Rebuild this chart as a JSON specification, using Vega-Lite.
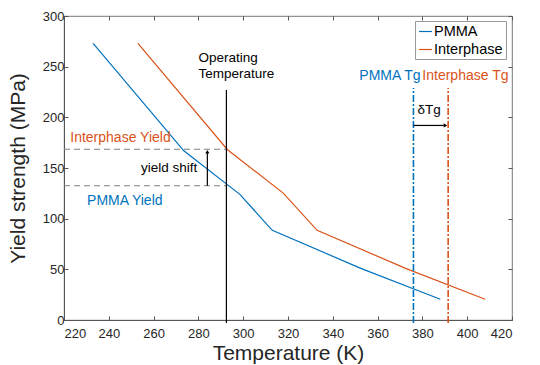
{
  "$schema": "https://vega.github.io/schema/vega-lite/v6.json",
  "width": 448,
  "height": 304,
  "autosize": {"type": "none"},
  "padding": {"left": 64, "top": 16, "right": 28, "bottom": 45},
  "config": {
    "font": "Liberation Sans",
    "view": {"stroke": "#555555", "strokeWidth": 0.8},
    "axis": {
      "grid": false,
      "domainColor": "#555555",
      "tickColor": "#555555",
      "labelColor": "#262626",
      "labelFontSize": 13,
      "titleColor": "#262626",
      "titleFontSize": 21,
      "titleFontWeight": "normal",
      "tickSize": -4
    }
  },
  "datasets": {
    "curves": [
      {"series": "PMMA", "T": 233, "Y": 273},
      {"series": "PMMA", "T": 273.5, "Y": 167},
      {"series": "PMMA", "T": 298.5, "Y": 124},
      {"series": "PMMA", "T": 313, "Y": 88.5},
      {"series": "PMMA", "T": 352.5, "Y": 51},
      {"series": "PMMA", "T": 388, "Y": 20.5},
      {"series": "Interphase", "T": 253, "Y": 273},
      {"series": "Interphase", "T": 293, "Y": 168},
      {"series": "Interphase", "T": 318, "Y": 125},
      {"series": "Interphase", "T": 333, "Y": 88.5},
      {"series": "Interphase", "T": 372.5, "Y": 51},
      {"series": "Interphase", "T": 408, "Y": 20.5}
    ]
  },
  "resolve": {"axis": {"x": "independent", "y": "independent"}},
  "layer": [
    {
      "layer": [
        {
          "data": {"values": [{"T1": 220, "T2": 292.5, "Y": 168.5}, {"T1": 220, "T2": 292.5, "Y": 132.5}]},
          "mark": {"type": "rule", "color": "#808080", "strokeDash": [6, 4], "strokeWidth": 1},
          "encoding": {
            "x": {"field": "T1", "type": "quantitative"},
            "x2": {"field": "T2"},
            "y": {"field": "Y", "type": "quantitative"}
          }
        },
        {
          "data": {"name": "curves"},
          "mark": {"type": "line", "strokeWidth": 1.2},
          "encoding": {
            "x": {
              "field": "T", "type": "quantitative",
              "scale": {"domain": [220, 420], "nice": false, "zero": false},
              "axis": {"values": [220, 240, 260, 280, 300, 320, 340, 360, 380, 400, 420], "title": "Temperature (K)", "labelPadding": 11, "titlePadding": 2}
            },
            "y": {
              "field": "Y", "type": "quantitative",
              "scale": {"domain": [0, 300], "nice": false},
              "axis": {"values": [0, 50, 100, 150, 200, 250, 300], "title": "Yield strength (MPa)", "labelPadding": 4, "titlePadding": 14}
            },
            "color": {
              "field": "series", "type": "nominal",
              "scale": {"domain": ["PMMA", "Interphase"], "range": ["#0072BD", "#D95319"]},
              "legend": {
                "title": null, "orient": "none", "legendX": 351, "legendY": 5,
                "symbolType": "stroke", "symbolSize": 170, "symbolStrokeWidth": 1.2,
                "labelFontSize": 14.5, "labelColor": "#000000", "labelOffset": 1,
                "strokeColor": "#999999", "fillColor": "#ffffff", "padding": 3, "rowPadding": 3
              }
            }
          }
        },
        {
          "data": {"values": [{"T": 292.5, "Y1": -3, "Y2": 227}]},
          "mark": {"type": "rule", "color": "#000000", "strokeWidth": 1.2, "clip": false},
          "encoding": {
            "x": {"field": "T", "type": "quantitative"},
            "y": {"field": "Y1", "type": "quantitative"},
            "y2": {"field": "Y2"}
          }
        },
        {
          "data": {"values": [{"T": 376, "Y1": -3, "Y2": 229}]},
          "mark": {"type": "rule", "color": "#0072BD", "strokeWidth": 1.6, "strokeDash": [7, 2, 2, 2], "clip": false},
          "encoding": {
            "x": {"field": "T", "type": "quantitative"},
            "y": {"field": "Y1", "type": "quantitative"},
            "y2": {"field": "Y2"}
          }
        },
        {
          "data": {"values": [{"T": 391.5, "Y1": -3, "Y2": 229}]},
          "mark": {"type": "rule", "color": "#D95319", "strokeWidth": 1.6, "strokeDash": [7, 2, 2, 2], "clip": false},
          "encoding": {
            "x": {"field": "T", "type": "quantitative"},
            "y": {"field": "Y1", "type": "quantitative"},
            "y2": {"field": "Y2"}
          }
        },
        {
          "data": {"values": [{"T": 284, "Y1": 132.5, "Y2": 165}]},
          "mark": {"type": "rule", "color": "#000000", "strokeWidth": 1.2},
          "encoding": {
            "x": {"field": "T", "type": "quantitative"},
            "y": {"field": "Y1", "type": "quantitative"},
            "y2": {"field": "Y2"}
          }
        },
        {
          "data": {"values": [{"T": 284, "Y": 166}]},
          "mark": {"type": "point", "shape": "triangle-up", "filled": true, "color": "#000000", "size": 18, "opacity": 1},
          "encoding": {
            "x": {"field": "T", "type": "quantitative"},
            "y": {"field": "Y", "type": "quantitative"}
          }
        },
        {
          "data": {"values": [{"T1": 376, "T2": 389.5, "Y": 192}]},
          "mark": {"type": "rule", "color": "#000000", "strokeWidth": 1.2},
          "encoding": {
            "x": {"field": "T1", "type": "quantitative"},
            "x2": {"field": "T2"},
            "y": {"field": "Y", "type": "quantitative"}
          }
        },
        {
          "data": {"values": [{"T": 390.3, "Y": 192}]},
          "mark": {"type": "point", "shape": "triangle-right", "filled": true, "color": "#000000", "size": 18, "opacity": 1},
          "encoding": {
            "x": {"field": "T", "type": "quantitative"},
            "y": {"field": "Y", "type": "quantitative"}
          }
        },
        {
          "data": {"values": [
            {"T": 280, "Y": 258.5, "label": "Operating"},
            {"T": 280, "Y": 243, "label": "Temperature"}
          ]},
          "mark": {"type": "text", "align": "left", "baseline": "middle", "fontSize": 13.5, "color": "#000000"},
          "encoding": {
            "x": {"field": "T", "type": "quantitative"},
            "y": {"field": "Y", "type": "quantitative"},
            "text": {"field": "label"}
          }
        },
        {
          "data": {"values": [{"T": 279.5, "Y": 150, "label": "yield shift"}]},
          "mark": {"type": "text", "align": "right", "baseline": "middle", "fontSize": 13.5, "color": "#000000"},
          "encoding": {
            "x": {"field": "T", "type": "quantitative"},
            "y": {"field": "Y", "type": "quantitative"},
            "text": {"field": "label"}
          }
        },
        {
          "data": {"values": [{"T": 383, "Y": 207, "label": "δTg"}]},
          "mark": {"type": "text", "align": "center", "baseline": "middle", "fontSize": 13.5, "color": "#000000"},
          "encoding": {
            "x": {"field": "T", "type": "quantitative"},
            "y": {"field": "Y", "type": "quantitative"},
            "text": {"field": "label"}
          }
        },
        {
          "data": {"values": [{"T": 222.8, "Y": 180, "label": "Interphase Yield"}]},
          "mark": {"type": "text", "align": "left", "baseline": "middle", "fontSize": 14, "color": "#D95319"},
          "encoding": {
            "x": {"field": "T", "type": "quantitative"},
            "y": {"field": "Y", "type": "quantitative"},
            "text": {"field": "label"}
          }
        },
        {
          "data": {"values": [{"T": 264, "Y": 117, "label": "PMMA Yield"}]},
          "mark": {"type": "text", "align": "right", "baseline": "middle", "fontSize": 14, "color": "#0072BD"},
          "encoding": {
            "x": {"field": "T", "type": "quantitative"},
            "y": {"field": "Y", "type": "quantitative"},
            "text": {"field": "label"}
          }
        },
        {
          "data": {"values": [{"T": 365.5, "Y": 241, "label": "PMMA Tg"}]},
          "mark": {"type": "text", "align": "center", "baseline": "middle", "fontSize": 14, "color": "#0072BD"},
          "encoding": {
            "x": {"field": "T", "type": "quantitative"},
            "y": {"field": "Y", "type": "quantitative"},
            "text": {"field": "label"}
          }
        },
        {
          "data": {"values": [{"T": 399.2, "Y": 241, "label": "Interphase Tg"}]},
          "mark": {"type": "text", "align": "center", "baseline": "middle", "fontSize": 14, "color": "#D95319"},
          "encoding": {
            "x": {"field": "T", "type": "quantitative"},
            "y": {"field": "Y", "type": "quantitative"},
            "text": {"field": "label"}
          }
        }
      ]
    },
    {
      "data": {"name": "curves"},
      "mark": {"type": "point", "opacity": 0},
      "encoding": {
        "x": {"field": "T", "type": "quantitative", "axis": {"orient": "top", "values": [220, 240, 260, 280, 300, 320, 340, 360, 380, 400, 420], "labels": false, "title": null, "domain": false}},
        "y": {"field": "Y", "type": "quantitative", "axis": {"orient": "right", "values": [0, 50, 100, 150, 200, 250, 300], "labels": false, "title": null, "domain": false}}
      }
    }
  ]
}
